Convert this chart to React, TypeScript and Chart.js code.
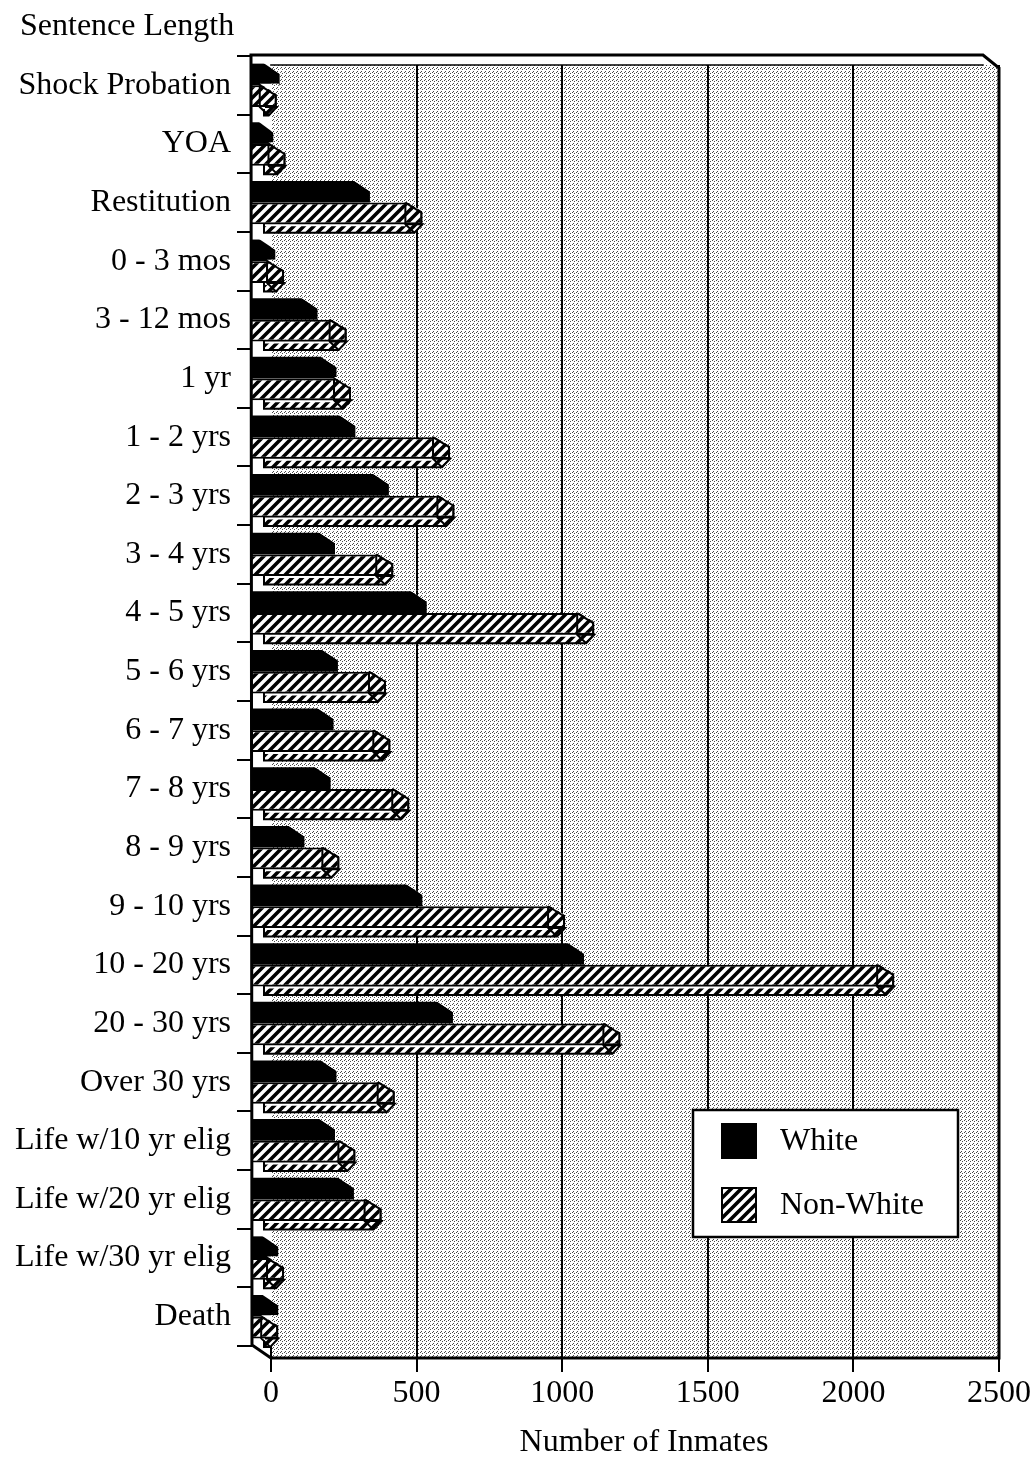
import React, { useEffect, useRef } from "react";
import { Chart, registerables } from "chart.js";

Chart.register(...registerables);

const CATEGORIES = [
  "Shock Probation",
  "YOA",
  "Restitution",
  "0 - 3 mos",
  "3 - 12 mos",
  "1 yr",
  "1 - 2 yrs",
  "2 - 3 yrs",
  "3 - 4 yrs",
  "4 - 5 yrs",
  "5 - 6 yrs",
  "6 - 7 yrs",
  "7 - 8 yrs",
  "8 - 9 yrs",
  "9 - 10 yrs",
  "10 - 20 yrs",
  "20 - 30 yrs",
  "Over 30 yrs",
  "Life w/10 yr elig",
  "Life w/20 yr elig",
  "Life w/30 yr elig",
  "Death",
];

const WHITE = [30, 8, 340, 15, 160, 225, 290, 405, 220, 535, 230, 215, 205, 115, 520, 1075, 625, 225, 220, 285, 25, 25];
const NON_WHITE = [20, 50, 520, 45, 260, 275, 615, 630, 420, 1110, 395, 410, 475, 235, 1010, 2140, 1200, 425, 290, 380, 45, 25];

const SERIES_LABELS = ["White", "Non-White"];
const X_TICKS = [0, 500, 1000, 1500, 2000, 2500];
const X_MAX = 2500;
const X_WALL = -65; // depth of the 3-D side wall, in axis units
const Y_TITLE = "Sentence Length";
const X_TITLE = "Number of Inmates";

const FONT = "'Liberation Serif', 'Times New Roman', serif";
const W = 1035;
const H = 1463;

function makeStipple(ctx: CanvasRenderingContext2D) {
  const c = document.createElement("canvas");
  c.width = 4;
  c.height = 4;
  const g = c.getContext("2d")!;
  g.fillStyle = "#ffffff";
  g.fillRect(0, 0, 4, 4);
  g.fillStyle = "#4a4a4a";
  [[0, 0], [2, 1], [1, 3]].forEach(([x, y]) => g.fillRect(x, y, 1, 1));
  return ctx.createPattern(c, "repeat")!;
}

function makeHatch(ctx: CanvasRenderingContext2D) {
  const p = 10;
  const c = document.createElement("canvas");
  c.width = p;
  c.height = p;
  const g = c.getContext("2d")!;
  g.fillStyle = "#ffffff";
  g.fillRect(0, 0, p, p);
  g.strokeStyle = "#000000";
  g.lineWidth = 3.6;
  g.lineCap = "square";
  g.beginPath();
  g.moveTo(0, p);
  g.lineTo(p, 0);
  g.moveTo(-p / 2, p / 2);
  g.lineTo(p / 2, -p / 2);
  g.moveTo(p / 2, p + p / 2);
  g.lineTo(p + p / 2, p / 2);
  g.stroke();
  return ctx.createPattern(c, "repeat")!;
}

export default function App() {
  const ref = useRef<HTMLCanvasElement>(null);

  useEffect(() => {
    const canvas = ref.current!;
    const ctx0 = canvas.getContext("2d")!;
    const stipple = makeStipple(ctx0);
    const hatch = makeHatch(ctx0);
    Chart.defaults.font.family = FONT;
    Chart.defaults.color = "#000";

    const BACK_TOP = 9;
    const FLOOR = 12;
    const CAP = 17;
    const STRIP = 8.5;

    const geom = (chart: any) => {
      const a = chart.chartArea;
      const xs = chart.scales.x;
      return {
        bgLeft: xs.getPixelForValue(0),
        bgRight: a.right,
        bgTop: a.top + BACK_TOP,
        bgBottom: a.bottom + FLOOR,
        a,
        xs,
      };
    };

    const paintBg = (ctx: CanvasRenderingContext2D, chart: any, poly: number[][]) => {
      const g = geom(chart);
      ctx.save();
      ctx.beginPath();
      poly.forEach(([x, y], i) => (i ? ctx.lineTo(x, y) : ctx.moveTo(x, y)));
      ctx.closePath();
      ctx.clip();
      ctx.fillStyle = "#fff";
      ctx.fillRect(0, 0, W, H);
      ctx.beginPath();
      ctx.rect(g.bgLeft, g.bgTop, g.bgRight - g.bgLeft, g.bgBottom - g.bgTop);
      ctx.clip();
      ctx.fillStyle = stipple;
      ctx.fillRect(0, 0, W, H);
      ctx.strokeStyle = "#000";
      ctx.lineWidth = 2;
      X_TICKS.filter((v) => v > 0).forEach((v) => {
        const x = Math.round(g.xs.getPixelForValue(v));
        ctx.beginPath();
        ctx.moveTo(x, g.bgTop);
        ctx.lineTo(x, g.bgBottom);
        ctx.stroke();
      });
      ctx.restore();
    };

    const decor = {
      id: "decor",
      beforeDraw(chart: any) {
        const ctx = chart.ctx;
        const g = geom(chart);
        ctx.save();
        ctx.fillStyle = "#fff";
        ctx.fillRect(0, 0, W, H);
        ctx.fillStyle = stipple;
        ctx.fillRect(g.bgLeft, g.bgTop, g.bgRight - g.bgLeft, g.bgBottom - g.bgTop);
        ctx.restore();
      },
      beforeDatasetsDraw(chart: any) {
        const ctx = chart.ctx;
        const g = geom(chart);
        ctx.save();
        ctx.fillStyle = "#fff";
        ctx.fillRect(g.bgLeft + 1, g.a.top - 2, g.bgRight - g.bgLeft + 4, g.bgTop - g.a.top + 2);
        ctx.restore();
      },
      afterDatasetsDraw(chart: any) {
        const ctx = chart.ctx;
        // Non-White: 3-D bottom strip and bevelled cap
        chart.getDatasetMeta(1).data.forEach((el: any) => {
          const p = el.getProps(["x", "y", "base", "height"], true);
          const t = p.y - p.height / 2;
          const b = p.y + p.height / 2;
          const xe = p.x;
          const x0 = p.base;
          const cap = Math.min(CAP, Math.max(6, xe - x0 - 6));
          ctx.save();
          ctx.beginPath();
          ctx.moveTo(x0 + 12, b);
          ctx.lineTo(xe, b);
          ctx.lineTo(xe - 8, b + STRIP);
          ctx.lineTo(x0 + 12, b + STRIP);
          ctx.closePath();
          ctx.fillStyle = hatch;
          ctx.fill();
          ctx.lineWidth = 2;
          ctx.strokeStyle = "#000";
          ctx.stroke();
          ctx.strokeStyle = "#fff";
          ctx.lineWidth = 2;
          ctx.beginPath();
          ctx.moveTo(x0 + 13, b + 1);
          ctx.lineTo(xe - cap, b + 1);
          ctx.stroke();
          ctx.restore();
          paintBg(ctx, chart, [[xe - cap, t - 1.5], [xe + 2, t - 1.5], [xe + 2, t + 10]]);
          ctx.save();
          ctx.strokeStyle = "#000";
          ctx.lineWidth = 2;
          ctx.beginPath();
          ctx.moveTo(xe - cap, t);
          ctx.lineTo(xe - 1, t + 10);
          ctx.lineTo(xe - 1, b);
          ctx.stroke();
          ctx.beginPath();
          ctx.moveTo(xe - cap, t);
          ctx.lineTo(xe - cap, b);
          ctx.lineTo(xe - 8, b + STRIP);
          ctx.stroke();
          ctx.restore();
        });
        // White: bevelled end
        chart.getDatasetMeta(0).data.forEach((el: any) => {
          const p = el.getProps(["x", "y", "base", "height"], true);
          const t = p.y - p.height / 2;
          const xe = p.x;
          const cap = Math.min(CAP, Math.max(6, xe - p.base - 6));
          paintBg(ctx, chart, [[xe - cap, t - 1], [xe + 1, t - 1], [xe + 1, t + 11]]);
        });
      },
      afterDraw(chart: any) {
        const ctx = chart.ctx;
        const g = geom(chart);
        const a = g.a;
        ctx.save();
        ctx.strokeStyle = "#000";
        ctx.lineCap = "square";
        // back top edge
        ctx.lineWidth = 1.5;
        ctx.beginPath();
        ctx.moveTo(g.bgLeft, g.bgTop);
        ctx.lineTo(a.right - 16, g.bgTop);
        ctx.stroke();
        // outer frame
        ctx.lineWidth = 3;
        ctx.beginPath();
        ctx.moveTo(a.left - 1, a.top - 1);
        ctx.lineTo(a.right - 16, a.top - 1);
        ctx.lineTo(a.right, a.top + 12);
        ctx.lineTo(a.right, g.bgBottom);
        ctx.lineTo(g.bgLeft, g.bgBottom);
        ctx.lineTo(a.left, a.bottom - 1);
        ctx.lineTo(a.left - 1, a.top - 1);
        ctx.stroke();

        // legend
        const lx = 693, ly = 1110, lw = 265, lh = 127;
        ctx.fillStyle = "#fff";
        ctx.fillRect(lx, ly, lw, lh);
        ctx.lineWidth = 2.5;
        ctx.strokeRect(lx, ly, lw, lh);
        const fills = [chart.data.datasets[0].backgroundColor, chart.data.datasets[1].backgroundColor];
        chart.data.datasets.forEach((ds: any, i: number) => {
          const sy = ly + 14 + i * 64;
          ctx.fillStyle = fills[i];
          ctx.fillRect(lx + 29, sy, 34, 34);
          ctx.lineWidth = 2;
          ctx.strokeRect(lx + 29, sy, 34, 34);
          ctx.fillStyle = "#000";
          ctx.font = `32px ${FONT}`;
          ctx.textBaseline = "middle";
          ctx.textAlign = "left";
          ctx.fillText(ds.label, lx + 87, sy + 18);
        });

        // titles
        ctx.fillStyle = "#000";
        ctx.font = `32px ${FONT}`;
        ctx.textAlign = "left";
        ctx.textBaseline = "alphabetic";
        ctx.fillText(Y_TITLE, 20, 35);
        ctx.textAlign = "center";
        ctx.textBaseline = "middle";
        ctx.fillText(X_TITLE, 644, 1443);
        ctx.restore();
      },
    };

    const chart = new Chart(canvas, {
      type: "bar",
      data: {
        labels: CATEGORIES,
        datasets: [
          {
            label: SERIES_LABELS[0],
            data: WHITE,
            backgroundColor: "#000",
            borderWidth: 0,
            base: X_WALL,
          },
          {
            label: SERIES_LABELS[1],
            data: NON_WHITE,
            backgroundColor: hatch as any,
            borderColor: "#000",
            borderWidth: 2,
            base: X_WALL,
          },
        ],
      },
      options: {
        indexAxis: "y",
        responsive: false,
        animation: false,
        events: [],
        layout: { padding: { top: 56, right: 36, bottom: 0, left: 0 } },
        datasets: { bar: { categoryPercentage: 0.74, barPercentage: 1 } } as any,
        plugins: {
          legend: { display: false },
          tooltip: { enabled: false },
          title: { display: false },
        },
        scales: {
          x: {
            type: "linear",
            min: X_WALL,
            max: X_MAX,
            afterBuildTicks: (s: any) => {
              s.ticks = X_TICKS.map((v) => ({ value: v }));
            },
            afterFit: (s: any) => {
              s.height = 117;
            },
            border: { display: false },
            grid: {
              color: (c: any) => (c.tick && c.tick.value === 0 ? "rgba(0,0,0,0)" : "#000"),
              tickColor: "#000",
              lineWidth: 2,
              tickLength: 26,
            },
            ticks: {
              font: { size: 32, family: FONT },
              color: "#000",
              padding: 2,
              maxRotation: 0,
              autoSkip: false,
              callback: (v: any) => String(v),
            },
          },
          y: {
            type: "category",
            offset: true,
            afterFit: (s: any) => {
              s.width = 252;
            },
            border: { display: false },
            grid: {
              offset: true,
              drawOnChartArea: false,
              tickLength: 15,
              color: "#000",
              lineWidth: 2,
            },
            ticks: {
              font: { size: 32, family: FONT },
              color: "#000",
              padding: 6,
              autoSkip: false,
            },
          },
        },
      },
      plugins: [decor],
    });

    return () => chart.destroy();
  }, []);

  return (
    <div style={{ position: "absolute", left: 0, top: 0, width: W, height: H, background: "#fff" }}>
      <canvas ref={ref} width={W} height={H} style={{ display: "block" }} />
    </div>
  );
}
